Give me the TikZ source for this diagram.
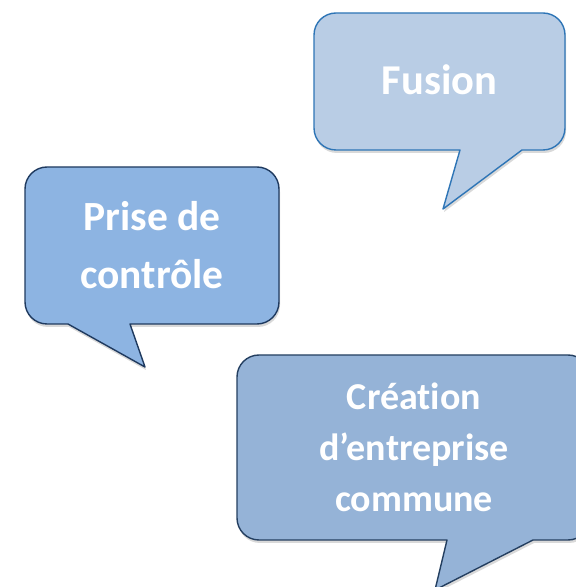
\documentclass[tikz,border=0pt]{standalone}
\usepackage{fontspec}
\setmainfont{Carlito}[Ligatures=NoCommon]
\usetikzlibrary{positioning}
\usetikzlibrary{shadows}

\definecolor{fusfill}{HTML}{B9CDE5}
\definecolor{fusline}{HTML}{2E75B6}
\definecolor{prisefill}{HTML}{8DB4E2}
\definecolor{priseline}{HTML}{1F3A5F}
\definecolor{creafill}{HTML}{95B3D7}
\definecolor{crealine}{HTML}{243F60}

\begin{document}
\begin{tikzpicture}[x=1pt,y=1pt]
    \tikzset{bubble/.style= {line width=1.4pt, line join=round,
                drop shadow={shadow xshift=1pt, shadow yshift=-3pt, opacity=0.25, fill=black!60}},
             bubbletext/.style= {text=white, align=center, font=\bfseries\fontsize{41.5}{58}\selectfont},}

    \useasboundingbox (0,0) rectangle (576,587);

    % Fusion
    \coordinate (fusTip) at (443,378);
    \draw[bubble, fill=fusfill, draw=fusline] (460,437) -- (fusTip) -- (522,437) -- (543,437)
        arc (-90:0:22) -- (565,552) arc (0:90:22) -- (336,574) arc (90:180:22) -- (314,459)
        arc (180:270:22) -- cycle;
    \node[bubbletext, font=\bfseries\fontsize{42.5}{58}\selectfont] (fusion) at (439.5,507) {Fusion};

    % Prise de controle
    \coordinate (priseTip) at (145,220);
    \draw[bubble, fill=prisefill, draw=priseline] (68,263) -- (priseTip) -- (130,263) -- (257,263)
        arc (-90:0:22) -- (279,398) arc (0:90:22) -- (47,420) arc (90:180:22) -- (25,285)
        arc (180:270:22) -- cycle;
    \node[bubbletext] (prise) at (152,342) {Prise de\\contrôle};

    % Creation d'entreprise commune
    \coordinate (creaTip) at (435,-3);
    \draw[bubble, fill=creafill, draw=crealine] (447,47) -- (creaTip) -- (533,47) -- (568,47)
        arc (-90:0:22) -- (590,210) arc (0:90:22) -- (259,232) arc (90:180:22) -- (237,69)
        arc (180:270:22) -- cycle;
    \node[bubbletext, font=\bfseries\fontsize{38}{51}\selectfont] (creation) at (414,139.5)
        {Création\\d’entreprise\\commune};
\end{tikzpicture}
\end{document}
